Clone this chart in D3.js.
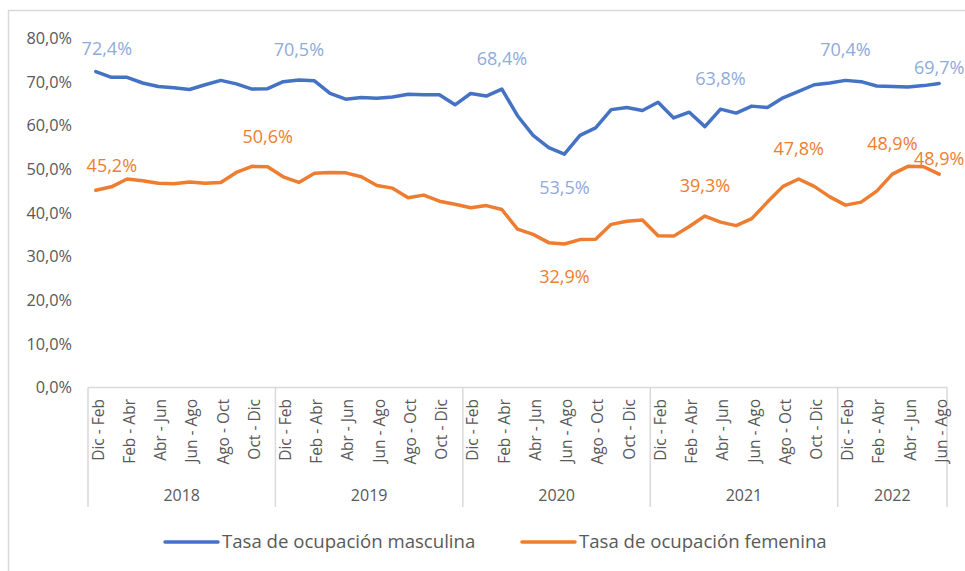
<!DOCTYPE html>
<html>
<head>
<meta charset="utf-8">
<script src="https://cdn.jsdelivr.net/npm/d3@7"></script>
<style>
  body { margin: 0; background: #fff; }
  svg { font-family: "Open Sans", sans-serif; }
</style>
</head>
<body>
<svg id="chart" width="965" height="571"></svg>
<script>
// categories: rolling quarters per year
const years = ["2018", "2019", "2020", "2021", "2022"];
const periods = ["Dic - Feb", "Ene - Mar", "Feb - Abr", "Mar - May", "Abr - Jun", "May - Jul",
                 "Jun - Ago", "Jul - Sep", "Ago - Oct", "Sep - Nov", "Oct - Dic", "Nov - Ene"];
const periodsPerYear = [12, 12, 12, 12, 7];

// series values (%)
const masculina = [72.4, 71.1, 71.1, 69.8, 69.0, 68.7, 68.3, 69.4, 70.4, 69.6, 68.4, 68.5,
                   70.1, 70.5, 70.3, 67.4, 66.1, 66.5, 66.3, 66.6, 67.2, 67.1, 67.1, 64.8,
                   67.4, 66.8, 68.4, 62.3, 57.8, 55.0, 53.5, 57.8, 59.5, 63.7, 64.2, 63.5,
                   65.4, 61.8, 63.1, 59.8, 63.8, 62.9, 64.5, 64.2, 66.4, 67.9, 69.4, 69.8,
                   70.4, 70.1, 69.1, 69.0, 68.9, 69.2, 69.7];
const femenina = [45.2, 46.0, 47.8, 47.4, 46.8, 46.7, 47.1, 46.8, 47.0, 49.3, 50.7, 50.6,
                  48.3, 47.0, 49.1, 49.3, 49.2, 48.3, 46.3, 45.7, 43.5, 44.1, 42.7, 42.0,
                  41.2, 41.7, 40.8, 36.3, 35.1, 33.2, 32.9, 33.9, 34.0, 37.4, 38.1, 38.4,
                  34.8, 34.7, 36.9, 39.3, 37.9, 37.1, 38.7, 42.5, 46.1, 47.8, 46.1, 43.7,
                  41.8, 42.5, 45.0, 48.9, 50.7, 50.6, 48.9];
const seriesNames = ["Tasa de ocupación masculina", "Tasa de ocupación femenina"];

// which points carry a data label
const labelsMasculina = [0, 13, 26, 30, 40, 48, 54];
const labelsFemenina = [0, 11, 30, 39, 45, 51, 54];

const yTicks = [0, 10, 20, 30, 40, 50, 60, 70, 80];

// build category list
const cats = [];
years.forEach((y, yi) => {
  for (let i = 0; i < periodsPerYear[yi]; i++) cats.push({year: y, period: periods[i], idx: i});
});

const svg = d3.select("#chart");
const colors = {m: "#4472C4", f: "#ED7D31", mLabel: "#8FAADC", fLabel: "#ED7D31", axis: "#D9D9D9", text: "#595959"};

// chart frame
svg.append("path")
  .attr("d", "M8.5,571 L8.5,10.5 L965,10.5")
  .attr("fill", "none").attr("stroke", colors.axis).attr("stroke-width", 1.5);

const x = d3.scaleBand().domain(d3.range(cats.length)).range([88, 947]).padding(0);
const y = d3.scaleLinear().domain([0, 80]).range([387.5, 38.5]);
const fmt = v => d3.format(".1f")(v).replace(".", ",") + "%";

// y axis labels
const yAxis = d3.axisLeft(y).tickValues(yTicks).tickFormat(fmt).tickSize(0).tickPadding(0);
const gy = svg.append("g").attr("transform", "translate(72,0)").call(yAxis);
gy.select(".domain").remove();
gy.selectAll("text").attr("font-size", 16.3).attr("fill", colors.text).attr("font-family", "Open Sans");

// x axis line and group separators
const axisY = 387.5;
svg.append("line").attr("x1", 88).attr("x2", 947).attr("y1", axisY).attr("y2", axisY)
  .attr("stroke", colors.axis).attr("stroke-width", 1.5);

let start = 0;
const bounds = [0];
periodsPerYear.forEach(n => { start += n; bounds.push(start); });
const edge = d => d < cats.length ? x(d) : x(cats.length - 1) + x.bandwidth();
svg.selectAll(".sep").data(bounds).join("line")
  .attr("class", "sep")
  .attr("x1", edge).attr("x2", edge)
  .attr("y1", axisY).attr("y2", 507)
  .attr("stroke", colors.axis).attr("stroke-width", 1.5);

// period labels (every second one)
svg.selectAll(".cat").data(cats.map((c, i) => ({...c, i})).filter(c => c.idx % 2 === 0)).join("text")
  .attr("class", "cat")
  .attr("transform", d => `translate(${x(d.i) + x.bandwidth() / 2},399) rotate(-90)`)
  .attr("text-anchor", "end").attr("dy", "0.5em")
  .attr("font-size", 15.5).attr("fill", colors.text)
  .text(d => d.period);

// year labels
svg.selectAll(".year").data(years).join("text")
  .attr("class", "year")
  .attr("x", (d, i) => (edge(bounds[i]) + edge(bounds[i + 1])) / 2)
  .attr("y", 501).attr("text-anchor", "middle")
  .attr("font-size", 16).attr("fill", colors.text)
  .text(d => d);

// lines
const line = d3.line().x((d, i) => x(i) + x.bandwidth() / 2).y(d => y(d));
svg.append("path").datum(masculina).attr("d", line)
  .attr("fill", "none").attr("stroke", colors.m).attr("stroke-width", 3.5).attr("stroke-linejoin", "round").attr("stroke-linecap", "round");
svg.append("path").datum(femenina).attr("d", line)
  .attr("fill", "none").attr("stroke", colors.f).attr("stroke-width", 3.5).attr("stroke-linejoin", "round").attr("stroke-linecap", "round");

// data labels (offsets mimic the manually placed labels)
const mOffsets = {0: [11, -17], 30: [0, 40], 54: [0, -9]};
const fOffsets = {0: [16, -18], 30: [0, 39], 54: [0, -9]};
function drawLabels(series, idxs, offsets, color) {
  svg.append("g").selectAll("text").data(idxs).join("text")
    .attr("x", i => x(i) + x.bandwidth() / 2 + (offsets[i] ? offsets[i][0] : 0))
    .attr("y", i => y(series[i]) + (offsets[i] ? offsets[i][1] : -24))
    .attr("text-anchor", "middle")
    .attr("font-size", 18).attr("fill", color)
    .text(i => fmt(series[i]));
}
drawLabels(masculina, labelsMasculina, mOffsets, colors.mLabel);
drawLabels(femenina, labelsFemenina, fOffsets, colors.fLabel);

// legend
const legend = [{name: seriesNames[0], color: colors.m, x: 165}, {name: seriesNames[1], color: colors.f, x: 522}];
const lg = svg.append("g").selectAll("g").data(legend).join("g")
  .attr("transform", d => `translate(${d.x},542)`);
lg.append("line").attr("x1", 0).attr("x2", 53).attr("y1", 0).attr("y2", 0)
  .attr("stroke", d => d.color).attr("stroke-width", 3.5).attr("stroke-linecap", "round");
lg.append("text").attr("x", 57).attr("y", 6).attr("font-size", 18.6).attr("fill", colors.text)
  .text(d => d.name);
</script>
</body>
</html>
